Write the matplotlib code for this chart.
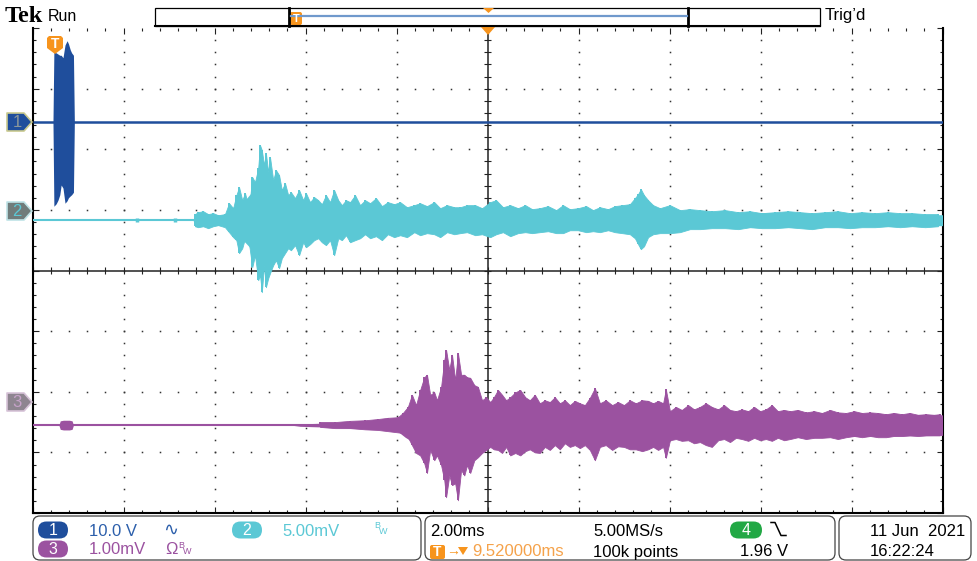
import numpy as np
import matplotlib.pyplot as plt
from matplotlib.patches import FancyBboxPatch, Polygon

plt.rcParams['font.family'] = ['Liberation Sans', 'DejaVu Sans']

# --- scope settings (from the readout) ---
time_left, time_right = -0.48, 19.52     # ms, 2.00 ms/div, trigger pos 9.52 ms
ch1_scale, ch2_scale, ch3_scale = 10.0, 5.0, 1.0   # V/div, mV/div, mV/div

# --- channel 1 (V): short burst right at the trigger ---
ch1_t = [-0.48, -0.03, -0.01, 0.04, 0.08, 0.12, 0.15, 0.19, 0.235, 0.28, 0.31, 0.35, 0.38, 0.42, 0.44, 19.52]
ch1_up = [0, 0, 11.6, 11.4, 11.2, 11.0, 11.0, 10.6, 12.7, 13.4, 12.9, 11.9, 11.4, 11.0, 0, 0]
ch1_dn = [0, 0, 13.9, 13.5, 12.9, 12.0, 10.4, 10.9, 13.4, 13.0, 12.5, 12.2, 12.0, 11.6, 0, 0]

# --- channel 2 (mV): solid body + individual peaks ---
ch2_blip_t = [1.82, 2.65]
ch2_blip_v = [0.17, 0.17]

ch2_core_t = [-0.48, 3.05, 3.09, 3.50, 3.75, 3.90, 4.19, 4.56, 4.96, 5.40, 6.28, 7.60, 9.36, 11.11, 12.65, 12.89, 13.20, 14.19, 16.39, 19.52]
ch2_core_up = [0, 0, 0.50, 0.45, 0.41, 0.99, 1.65, 3.30, 2.31, 1.49, 1.24, 0.99, 0.91, 0.83, 0.83, 1.49, 0.83, 0.66, 0.58, 0.45]
ch2_core_dn = [0, 0, 0.50, 0.45, 0.41, 0.99, 1.82, 3.30, 2.31, 1.49, 1.24, 0.99, 0.91, 0.74, 0.83, 1.49, 0.83, 0.58, 0.58, 0.45]

ch2_spk_t = [3.09, 3.16, 3.27, 3.38, 3.49, 3.60, 3.75, 3.84, 3.93, 4.00, 4.06, 4.13, 4.19, 4.28, 4.35,
             4.41, 4.48, 4.52, 4.56, 4.61, 4.65, 4.70, 4.74, 4.81, 4.87, 4.94, 5.00, 5.07, 5.14, 5.20, 5.29,
             5.38, 5.47, 5.53, 5.62, 5.71, 5.80, 5.88, 5.97, 6.06, 6.15, 6.24, 6.32, 6.41, 6.50, 6.61, 6.72,
             6.83, 6.94, 7.07, 7.20, 7.33, 7.47, 7.60, 7.75, 7.91, 8.04, 8.19, 8.35, 8.48, 8.63, 8.79, 8.92,
             9.07, 9.25, 9.40, 9.58, 9.71, 9.86, 10.02, 10.19, 10.35, 10.50, 10.67, 10.85, 11.03, 11.18, 11.33,
             11.51, 11.69, 11.84, 11.99, 12.17, 12.32, 12.48, 12.65, 12.76, 12.83, 12.89, 12.96, 13.05, 13.16,
             13.31, 13.53, 13.75, 13.97, 14.19, 14.45, 14.74, 15.03, 15.29, 15.55, 15.84, 16.13, 16.39, 16.65,
             16.94, 17.22, 17.49, 17.75, 18.04, 18.32, 18.59, 18.85, 19.14, 19.42]
ch2_spk_up = [0.50, 0.66, 0.74, 0.50, 0.58, 0.41, 0.50, 1.40, 0.99, 2.06, 2.72, 1.65, 2.23, 0.99, 3.55,
              3.14, 4.29, 6.19, 5.78, 4.54, 5.53, 3.96, 5.20, 3.30, 4.13, 3.71, 2.48, 3.05, 2.06, 2.31, 1.82,
              2.48, 1.65, 2.23, 1.49, 1.90, 1.65, 1.32, 2.06, 1.49, 2.48, 1.65, 1.24, 1.65, 1.49, 2.06, 1.24,
              1.65, 1.40, 1.82, 1.16, 1.49, 1.32, 1.49, 1.07, 1.24, 1.40, 1.16, 1.49, 0.99, 1.24, 1.07, 1.07,
              1.24, 1.24, 0.99, 1.49, 1.65, 1.07, 1.24, 0.99, 1.24, 0.91, 0.99, 1.16, 0.83, 1.24, 0.91,
              0.99, 1.16, 0.83, 1.07, 0.91, 1.16, 1.24, 1.32, 1.82, 2.15, 2.56, 2.06, 1.65, 1.24,
              0.99, 1.24, 0.83, 0.91, 0.83, 0.74, 0.83, 0.66, 0.74, 0.58, 0.66, 0.74, 0.66, 0.58,
              0.66, 0.74, 0.58, 0.66, 0.58, 0.66, 0.58, 0.58, 0.50, 0.50]
ch2_spk_dn = [0.50, 0.58, 0.50, 0.66, 0.50, 0.41, 0.58, 0.99, 1.40, 1.65, 2.72, 2.31, 1.49, 1.98, 3.88,
              2.89, 4.95, 4.54, 5.94, 3.71, 5.53, 4.79, 4.37, 3.71, 3.30, 3.96, 3.14, 2.72, 2.31, 2.48, 2.06,
              2.89, 1.82, 2.23, 1.98, 1.65, 1.49, 1.82, 2.06, 1.65, 2.89, 1.49, 1.65, 1.24, 1.82, 1.65, 1.49,
              1.16, 1.49, 1.32, 1.65, 1.16, 1.40, 1.24, 1.40, 0.99, 1.24, 1.07, 1.16, 1.40, 0.99, 1.16, 1.07,
              0.99, 1.24, 1.16, 1.40, 1.16, 0.99, 1.32, 1.07, 0.99, 1.07, 0.99, 0.91, 1.07, 1.07, 0.83,
              0.83, 0.99, 0.91, 0.99, 0.83, 0.99, 1.07, 1.16, 1.49, 1.98, 2.39, 2.15, 1.40, 1.16,
              1.07, 1.07, 0.99, 0.74, 0.74, 0.66, 0.66, 0.74, 0.58, 0.66, 0.66, 0.58, 0.66, 0.74,
              0.58, 0.58, 0.66, 0.58, 0.58, 0.50, 0.58, 0.50, 0.58, 0.50]

# --- channel 3 (mV) ---
ch3_core_t = [-0.48, 0.10, 0.13, 0.20, 0.26, 0.33, 0.39, 0.42, 5.20, 5.40, 5.84, 6.50, 7.05, 7.49, 7.71, 7.99,
              8.30, 8.59, 8.87, 9.14, 9.53, 10.24, 11.11, 11.99, 12.87, 13.75, 14.63, 16.39, 18.15, 19.52]
ch3_core_up = [0, 0, 0.07, 0.08, 0.08, 0.08, 0.07, 0, 0, 0.02, 0.03, 0.05, 0.07, 0.07, 0.17, 0.30,
               0.33, 0.50, 0.50, 0.41, 0.26, 0.26, 0.25, 0.25, 0.25, 0.21, 0.21, 0.20, 0.18, 0.17]
ch3_core_dn = [0, 0, 0.07, 0.08, 0.08, 0.08, 0.07, 0, 0, 0.02, 0.03, 0.05, 0.07, 0.07, 0.20, 0.33,
               0.36, 0.50, 0.50, 0.43, 0.28, 0.26, 0.25, 0.25, 0.25, 0.21, 0.20, 0.20, 0.18, 0.17]

ch3_spk_t = [5.84, 6.17, 6.50, 6.83, 7.11, 7.33, 7.55, 7.66, 7.77, 7.86, 7.95, 8.04, 8.13, 8.19, 8.26, 8.35,
             8.41, 8.50, 8.57, 8.61, 8.68, 8.74, 8.81, 8.87, 8.94, 9.01, 9.07, 9.14, 9.23, 9.31, 9.40, 9.49,
             9.58, 9.66, 9.75, 9.84, 9.93, 10.02, 10.13, 10.24, 10.35, 10.45, 10.56, 10.67, 10.78, 10.89,
             11.00, 11.11, 11.22, 11.33, 11.44, 11.55, 11.66, 11.77, 11.88, 11.99, 12.12, 12.26, 12.39,
             12.52, 12.65, 12.78, 12.92, 13.05, 13.16, 13.27, 13.38, 13.44, 13.53, 13.66, 13.79, 13.93,
             14.06, 14.19, 14.32, 14.45, 14.59, 14.72, 14.85, 14.98, 15.11, 15.25, 15.38, 15.51, 15.64,
             15.77, 15.90, 16.04, 16.17, 16.34, 16.52, 16.70, 16.87, 17.05, 17.22, 17.40, 17.58, 17.75,
             17.93, 18.10, 18.28, 18.45, 18.63, 18.80, 18.98, 19.16, 19.33, 19.46]
ch3_spk_up = [0.05, 0.05, 0.07, 0.08, 0.10, 0.12, 0.13, 0.20, 0.30, 0.50, 0.33, 0.58, 0.79, 0.83, 0.50, 0.54,
              0.41, 0.63, 1.07, 1.24, 0.91, 1.16, 0.74, 1.19, 0.83, 0.83, 0.79, 0.78, 0.66, 0.63, 0.41, 0.46,
              0.38, 0.46, 0.58, 0.50, 0.41, 0.46, 0.54, 0.58, 0.46, 0.41, 0.50, 0.36, 0.41, 0.38,
              0.46, 0.36, 0.41, 0.33, 0.40, 0.36, 0.33, 0.45, 0.61, 0.36, 0.41, 0.33, 0.38,
              0.33, 0.41, 0.36, 0.41, 0.40, 0.36, 0.40, 0.36, 0.59, 0.23, 0.30, 0.25, 0.33,
              0.26, 0.30, 0.36, 0.30, 0.26, 0.33, 0.25, 0.23, 0.26, 0.23, 0.30, 0.23, 0.26,
              0.33, 0.23, 0.25, 0.23, 0.25, 0.21, 0.23, 0.20, 0.25, 0.21, 0.20, 0.23, 0.20,
              0.21, 0.20, 0.18, 0.20, 0.18, 0.20, 0.17, 0.18, 0.17, 0.18]
ch3_spk_dn = [0.03, 0.05, 0.05, 0.07, 0.08, 0.10, 0.12, 0.13, 0.20, 0.33, 0.46, 0.50, 0.63, 0.79, 0.41, 0.58,
              0.50, 0.66, 0.91, 1.19, 0.83, 0.99, 0.96, 1.24, 0.74, 0.83, 0.66, 0.79, 0.58, 0.53, 0.46, 0.41,
              0.36, 0.40, 0.41, 0.46, 0.36, 0.50, 0.46, 0.50, 0.43, 0.40, 0.45, 0.46, 0.36, 0.41,
              0.33, 0.40, 0.30, 0.36, 0.33, 0.38, 0.33, 0.41, 0.58, 0.36, 0.33, 0.41, 0.35,
              0.36, 0.40, 0.40, 0.43, 0.40, 0.36, 0.41, 0.36, 0.54, 0.25, 0.23, 0.26, 0.25,
              0.30, 0.28, 0.33, 0.36, 0.25, 0.23, 0.28, 0.21, 0.23, 0.26, 0.21, 0.25, 0.23,
              0.26, 0.21, 0.25, 0.23, 0.20, 0.23, 0.21, 0.21, 0.20, 0.23, 0.20, 0.18, 0.20,
              0.18, 0.20, 0.20, 0.18, 0.18, 0.17, 0.18, 0.17, 0.17, 0.17]

C1, C2, C3 = '#1f4e9c', '#5bc8d5', '#9b52a0'
ORANGE = '#f7941d'

fig = plt.figure(figsize=(9.77, 5.61), dpi=100)
fig.patch.set_facecolor('white')
W, H = 977, 561

ax = fig.add_axes([32.5 / W, (H - 513) / H, 910 / W, 485 / H])
ax.set_xlim(time_left, time_right)
ax.set_ylim(-4, 4)

# graticule
xmaj = np.arange(time_left, time_right + 0.01, 2.0)
xmin = np.arange(time_left, time_right + 0.01, 0.4)
ymin = np.arange(-4, 4.01, 0.2)
ax.set_xticks(xmaj)
ax.set_xticks(xmin, minor=True)
ax.set_yticks(np.arange(-4, 4.01, 1))
ax.set_yticks(ymin, minor=True)
ax.tick_params(which='both', direction='in', top=True, right=True,
               labelbottom=False, labelleft=False, color='#222', width=0.8)
ax.tick_params(which='major', length=4.5)
ax.tick_params(which='minor', length=2.2)
for s in ['left', 'right', 'bottom']:
    ax.spines[s].set_linewidth(1.5)
ax.spines['top'].set_visible(False)

gx, gy = [], []
for xv in xmaj[1:-1]:
    if abs(xv - 9.52) < 0.01:
        continue
    gx += [xv] * len(ymin[1:-1])
    gy += list(ymin[1:-1])
for yv in [-3, -2, -1, 1, 2, 3]:
    gx += list(xmin[1:-1])
    gy += [yv] * len(xmin[1:-1])
ax.plot(gx, gy, ls='none', marker='s', ms=1.1, mew=0, color='#333', zorder=1)

ax.axhline(0, color='#222', lw=1.1, zorder=1)
ax.axvline(9.52, color='#222', lw=1.1, zorder=1)
ax.vlines(xmin, -0.06, 0.06, color='#222', lw=0.8, zorder=1)
ax.hlines(ymin, 9.52 - 0.08, 9.52 + 0.08, color='#222', lw=0.8, zorder=1)

# traces
def trace(t_core, up, dn, scale, off, color, lw, spk=None):
    t_core = np.array(t_core)
    ax.fill_between(t_core, off + np.array(up) / scale, off - np.array(dn) / scale,
                    color=color, lw=0, zorder=3)
    ax.plot([time_left, time_right], [off, off], color=color, lw=lw, zorder=3,
            solid_capstyle='butt')
    if spk is not None:
        st, su, sd = spk
        hi = off + np.array(su) / scale
        lo = off - np.array(sd) / scale
        # body follows the peak tips, the peaks themselves as thin strokes
        ax.fill_between(st, hi, lo, color=color, lw=0.6, ec=color, zorder=3)
        ax.vlines(st, lo, hi, color=color, lw=1.4, zorder=3)

trace(ch3_core_t, ch3_core_up, ch3_core_dn, ch3_scale, -2.55, C3, 1.5,
      (ch3_spk_t, ch3_spk_up, ch3_spk_dn))
trace(ch2_core_t, ch2_core_up, ch2_core_dn, ch2_scale, 0.83, C2, 1.5,
      (ch2_spk_t, ch2_spk_up, ch2_spk_dn))
ax.vlines(ch2_blip_t, 0.83 - np.array(ch2_blip_v) / ch2_scale, 0.83 + np.array(ch2_blip_v) / ch2_scale,
          color=C2, lw=2.5, zorder=3)
trace(ch1_t, ch1_up, ch1_dn, ch1_scale, 2.45, C1, 1.8)

# overlay in pixel coordinates for the scope furniture
ov = fig.add_axes([0, 0, 1, 1], zorder=5)
ov.set_xlim(0, W)
ov.set_ylim(H, 0)
ov.axis('off')
ov.patch.set_alpha(0)

def txt(x, y, s, color='black', size=12, **kw):
    ov.text(x, y, s, color=color, fontsize=size, va='center', ha='left', **kw)

def pill(cx, cy, w, h, color, label, tcolor='white'):
    ov.add_patch(FancyBboxPatch((cx - w / 2, cy - h / 2), w, h,
                                boxstyle='round,pad=0,rounding_size=%f' % (h / 2),
                                fc=color, ec='none'))
    ov.text(cx, cy + 0.5, label, color=tcolor, fontsize=11.5, ha='center', va='center')

# header
txt(5, 16, 'Tek', size=17.5, family='Liberation Serif', weight='bold')
txt(48, 16, 'Run', size=11.5)
txt(825, 15, 'Trig\u2019d', size=12)
ov.add_patch(FancyBboxPatch((155, 8), 665, 18, boxstyle='square,pad=0', fc='white', ec='black', lw=0.9))
ov.plot([155, 820], [25.5, 25.5], color='black', lw=1.5)
ov.plot([289, 289], [8, 26], color='black', lw=2)
ov.plot([688, 688], [8, 26], color='black', lw=2)
ov.plot([291, 687], [16, 16], color='#7099cc', lw=1.6)
ov.add_patch(Polygon([[483, 8], [494, 8], [488.5, 13]], closed=True, fc=ORANGE, ec='none'))
ov.add_patch(FancyBboxPatch((290, 12), 12, 13, boxstyle='round,pad=0,rounding_size=2', fc=ORANGE, ec='none'))
ov.text(296, 18.5, 'T', color='white', fontsize=8, ha='center', va='center', weight='bold')

# trigger markers on the graticule
ov.add_patch(Polygon([[481, 27], [495, 27], [488, 35]], closed=True, fc=ORANGE, ec='none'))
ov.add_patch(Polygon([[47, 38], [49, 36], [61, 36], [63, 38], [63, 48], [55, 54], [47, 48]],
                     closed=True, fc=ORANGE, ec='none'))
ov.text(55, 43.5, 'T', color='white', fontsize=10, ha='center', va='center', weight='bold')

# channel ground markers
def chmark(cy, fc, ec, tc, label):
    ov.add_patch(Polygon([[7, cy - 9], [24, cy - 9], [32, cy], [24, cy + 9], [7, cy + 9]],
                         closed=True, fc=fc, ec=ec, lw=1.2, joinstyle='round'))
    ov.text(17, cy + 0.5, label, color=tc, fontsize=12, ha='center', va='center')

chmark(122, C1, '#c9c98f', '#8a979a', '1')
chmark(211, '#707c7b', '#bfe3e6', C2, '2')
chmark(402, '#8e8590', '#d7c3d8', '#c7a3ca', '3')

# bottom readout boxes
for x0, x1 in [(33, 421), (425, 835), (839, 971)]:
    ov.add_patch(FancyBboxPatch((x0, 516), x1 - x0, 44, boxstyle='round,pad=0,rounding_size=7',
                                fc='none', ec='#444', lw=0.9))

pill(53, 530, 30, 17, C1, '1')
txt(89, 531, '10.0 V', color='#2c5fab')
txt(163, 530, '\u223f', color='#2c5fab', size=13, family='DejaVu Sans')
pill(247, 530, 30, 17, C2, '2')
txt(282, 531, '5.00mV', color=C2)
txt(374, 526, 'B', color=C2, size=6.5)
txt(379, 532, 'W', color=C2, size=6.5)
pill(53, 549, 30, 17, C3, '3')
txt(89, 550, '1.00mV', color=C3)
txt(165, 550, '\u03a9', color=C3, size=12)
txt(178, 546, 'B', color=C3, size=6.5)
txt(183, 552, 'W', color=C3, size=6.5)

txt(430, 531, '2.00ms')
txt(593, 531, '5.00MS/s')
pill(746, 530, 32, 17, '#22a845', '4')
ov.plot([771, 775, 781, 786], [522.5, 522.5, 535.5, 535.5], color='black', lw=1.1)
ov.add_patch(FancyBboxPatch((430, 545), 15, 14, boxstyle='round,pad=0,rounding_size=2', fc=ORANGE, ec='none'))
ov.text(437.5, 552.5, 'T', color='white', fontsize=10, ha='center', va='center', weight='bold')
txt(446, 551, '\u2192', color=ORANGE, size=10)
ov.add_patch(Polygon([[458, 547], [468, 547], [463, 555]], closed=True, fc=ORANGE, ec='none'))
txt(472, 552, '9.520000ms', color='#f5a24a')
txt(593, 552, '100k points')
txt(740, 552, '1.96 V')
txt(870, 531, '11 Jun  2021')
txt(870, 552, '16:22:24')

fig.savefig('out.png', dpi=100)
